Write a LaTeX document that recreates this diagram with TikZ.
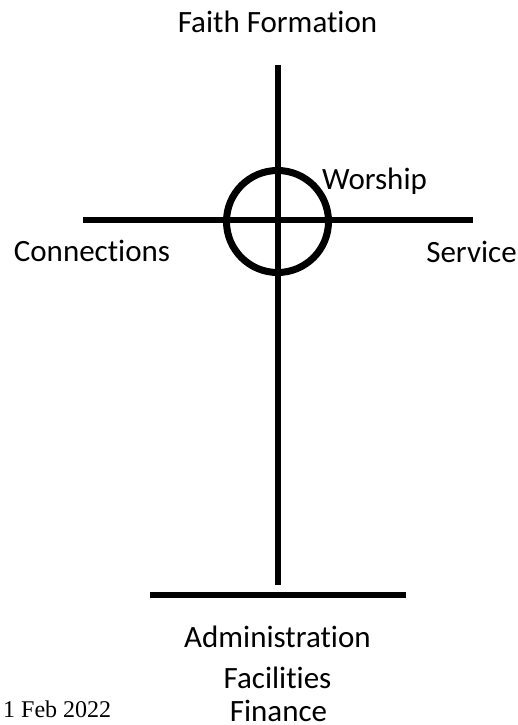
\documentclass[tikz,border=0pt]{standalone}
\usepackage{fontspec}
\setmainfont{Carlito}[Ligatures={NoCommon}]
\newfontfamily\datefont{Liberation Serif}
\begin{document}
\begin{tikzpicture}[x=1pt,y=-1pt,
  lbl/.style={inner sep=0pt,font=\fontsize{31}{37}\selectfont,anchor=base},
  bar/.style={line width=6pt,black},
  ring/.style={line width=7pt,black}]
\useasboundingbox (0,0) rectangle (518,725);
% cross
\coordinate (vtop) at (278,65);
\coordinate (vbot) at (278,585);
\coordinate (hl) at (83,220);
\coordinate (hr) at (473,220);
\coordinate (bl) at (150,595);
\coordinate (br) at (406,595);
\coordinate (c) at (277.5,221.5);
\draw[bar] (vtop) -- (vbot);
\draw[bar] (hl) -- (hr);
\draw[bar] (bl) -- (br);
\draw[ring] (c) circle[radius=51];
% labels
\node[lbl] (faith) at (277.5,33) {Faith Formation};
\node[lbl,anchor=base west] (worship) at (322,189) {Worship};
\node[lbl] (conn) at (92,261) {Connections};
\node[lbl] (serv) at (471.5,262) {Service};
\node[lbl] (admin) at (277.5,647) {Administration};
\node[lbl] (fac) at (277.5,688) {Facilities};
\node[lbl] (fin) at (278.5,721) {Finance};
\node[inner sep=0pt,anchor=base west,font=\datefont\fontsize{24}{28}\selectfont] (date) at (3,717) {1 Feb 2022};
\end{tikzpicture}
\end{document}
